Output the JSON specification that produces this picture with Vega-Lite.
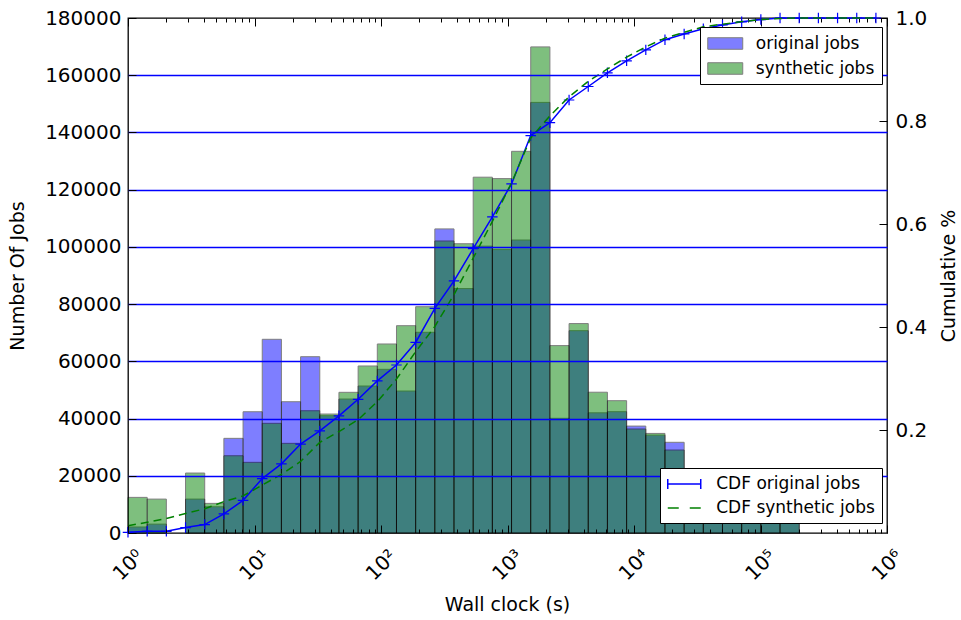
{
  "$schema": "https://vega.github.io/schema/vega-lite/v6.json",
  "autosize": "none",
  "width": 759,
  "height": 515,
  "padding": {"left": 128, "top": 18, "right": 74, "bottom": 87},
  "background": "white",
  "config": {
    "font": "DejaVu Sans",
    "view": {"stroke": "black", "strokeWidth": 1.3},
    "axis": {
      "labelFont": "DejaVu Sans",
      "titleFont": "DejaVu Sans",
      "labelColor": "black",
      "titleColor": "black",
      "titleFontWeight": "normal",
      "domain": false,
      "tickColor": "black",
      "tickWidth": 1,
      "labelFlush": false,
      "labelOverlap": false
    },
    "legend": {
      "labelFont": "DejaVu Sans",
      "labelFontSize": 17,
      "labelColor": "black",
      "fillColor": "white",
      "strokeColor": "black",
      "padding": 7,
      "rowPadding": 7,
      "cornerRadius": 0,
      "zindex": 2
    }
  },
  "datasets": {
    "hist": [
      {"lo": 1, "hi": 1.4178, "original": 2100, "synthetic": 12450},
      {"lo": 1.4178, "hi": 2.01, "original": 3100, "synthetic": 11850},
      {"lo": 2.8497, "hi": 4.0402, "original": 11850, "synthetic": 20950},
      {"lo": 4.0402, "hi": 5.728, "original": 9160, "synthetic": 10350},
      {"lo": 5.728, "hi": 8.1208, "original": 33080, "synthetic": 27000},
      {"lo": 8.1208, "hi": 11.513, "original": 42380, "synthetic": 24690},
      {"lo": 11.513, "hi": 16.323, "original": 67700, "synthetic": 38330},
      {"lo": 16.323, "hi": 23.142, "original": 45880, "synthetic": 31330},
      {"lo": 23.142, "hi": 32.81, "original": 61620, "synthetic": 42730},
      {"lo": 32.81, "hi": 46.517, "original": 40990, "synthetic": 41580},
      {"lo": 46.517, "hi": 65.949, "original": 46820, "synthetic": 49170},
      {"lo": 65.949, "hi": 93.5, "original": 51370, "synthetic": 58370},
      {"lo": 93.5, "hi": 132.56, "original": 57210, "synthetic": 66060},
      {"lo": 132.56, "hi": 187.93, "original": 49620, "synthetic": 72460},
      {"lo": 187.93, "hi": 266.44, "original": 70150, "synthetic": 79100},
      {"lo": 266.44, "hi": 377.74, "original": 106280, "synthetic": 102060},
      {"lo": 377.74, "hi": 535.5, "original": 85430, "synthetic": 101100},
      {"lo": 535.5, "hi": 759.3, "original": 100260, "synthetic": 124360},
      {"lo": 759.3, "hi": 1076.4, "original": 99050, "synthetic": 123870},
      {"lo": 1076.4, "hi": 1526.1, "original": 102400, "synthetic": 133400},
      {"lo": 1526.1, "hi": 2163.7, "original": 150500, "synthetic": 169900},
      {"lo": 2163.7, "hi": 3067.6, "original": 40080, "synthetic": 65500},
      {"lo": 3067.6, "hi": 4349, "original": 70710, "synthetic": 73200},
      {"lo": 4349, "hi": 6166, "original": 42000, "synthetic": 49200},
      {"lo": 6166, "hi": 8742, "original": 42400, "synthetic": 46250},
      {"lo": 8742, "hi": 12394, "original": 37370, "synthetic": 36350},
      {"lo": 12394, "hi": 17572, "original": 34200, "synthetic": 34800},
      {"lo": 17572, "hi": 24912, "original": 31700, "synthetic": 29000},
      {"lo": 24912, "hi": 35318, "original": 18000, "synthetic": 19000},
      {"lo": 35318, "hi": 50073, "original": 16000, "synthetic": 15000},
      {"lo": 50073, "hi": 70991, "original": 12000, "synthetic": 11000},
      {"lo": 70991, "hi": 100647, "original": 9500, "synthetic": 9000},
      {"lo": 100647, "hi": 142692, "original": 7000, "synthetic": 6000},
      {"lo": 142692, "hi": 202302, "original": 5000, "synthetic": 4500}
    ],
    "cdf": [
      {"edge": 1, "orig": 0.0013, "synth": 0.014},
      {"edge": 1.4178, "orig": 0.0032, "synth": 0.021},
      {"edge": 2.01, "orig": 0.0032, "synth": 0.028},
      {"edge": 2.8497, "orig": 0.0106, "synth": 0.038},
      {"edge": 4.0402, "orig": 0.0164, "synth": 0.047},
      {"edge": 5.728, "orig": 0.037, "synth": 0.061},
      {"edge": 8.1208, "orig": 0.0634, "synth": 0.072},
      {"edge": 11.513, "orig": 0.1057, "synth": 0.093},
      {"edge": 16.323, "orig": 0.1343, "synth": 0.114},
      {"edge": 23.142, "orig": 0.1727, "synth": 0.139},
      {"edge": 32.81, "orig": 0.1983, "synth": 0.176},
      {"edge": 46.517, "orig": 0.2275, "synth": 0.197},
      {"edge": 65.949, "orig": 0.2596, "synth": 0.22},
      {"edge": 93.5, "orig": 0.2953, "synth": 0.255},
      {"edge": 132.56, "orig": 0.3262, "synth": 0.299},
      {"edge": 187.93, "orig": 0.37, "synth": 0.352},
      {"edge": 266.44, "orig": 0.4363, "synth": 0.401},
      {"edge": 377.74, "orig": 0.4896, "synth": 0.463},
      {"edge": 535.5, "orig": 0.5521, "synth": 0.534},
      {"edge": 759.3, "orig": 0.6139, "synth": 0.605},
      {"edge": 1076.4, "orig": 0.6778, "synth": 0.68},
      {"edge": 1526.1, "orig": 0.7717, "synth": 0.767},
      {"edge": 2163.7, "orig": 0.7967, "synth": 0.81},
      {"edge": 3067.6, "orig": 0.8408, "synth": 0.847},
      {"edge": 4349, "orig": 0.867, "synth": 0.877},
      {"edge": 6166, "orig": 0.8935, "synth": 0.901},
      {"edge": 8742, "orig": 0.9168, "synth": 0.924},
      {"edge": 12394, "orig": 0.9381, "synth": 0.944},
      {"edge": 17572, "orig": 0.9579, "synth": 0.961},
      {"edge": 24912, "orig": 0.9691, "synth": 0.972},
      {"edge": 35318, "orig": 0.9791, "synth": 0.983},
      {"edge": 50073, "orig": 0.9866, "synth": 0.988},
      {"edge": 70991, "orig": 0.9925, "synth": 0.993},
      {"edge": 100647, "orig": 0.9969, "synth": 0.997},
      {"edge": 142692, "orig": 1.0, "synth": 0.999},
      {"edge": 202302, "orig": 1.0, "synth": 1.0},
      {"edge": 286810, "orig": 1.0, "synth": 1.0},
      {"edge": 406630, "orig": 1.0, "synth": 1.0},
      {"edge": 576490, "orig": 1.0, "synth": 1.0},
      {"edge": 817310, "orig": 1.0, "synth": 1.0}
    ]
  },
  "layer": [
    {
      "data": {"name": "hist"},
      "layer": [
        {
          "mark": {"type": "bar", "opacity": 0.5, "stroke": "black", "strokeWidth": 1},
          "encoding": {
            "x": {
              "field": "lo",
              "type": "quantitative",
              "scale": {"type": "log", "domain": [1, 1000000]},
              "axis": {
                "orient": "bottom",
                "values": [1,2,3,4,5,6,7,8,9,10,20,30,40,50,60,70,80,90,100,200,300,400,500,600,700,800,900,1000,2000,3000,4000,5000,6000,7000,8000,9000,10000,20000,30000,40000,50000,60000,70000,80000,90000,100000,200000,300000,400000,500000,600000,700000,800000,900000,1000000],
                "labelExpr": "abs(log(datum.value)/LN10 - round(log(datum.value)/LN10)) < 0.001 ? '10' + ['⁰','¹','²','³','⁴','⁵','⁶'][round(log(datum.value)/LN10)] : ''",
                "labelAngle": -45,
                "labelAlign": "center",
                "labelBaseline": "middle",
                "labelFontSize": 20,
                "labelPadding": 40,
                "tickSize": {"condition": {"test": "abs(log(datum.value)/LN10 - round(log(datum.value)/LN10)) < 0.001", "value": -8}, "value": -4},
                "grid": false,
                "title": "Wall clock (s)",
                "titleFontSize": 19,
                "titleX": 379,
                "titleY": 71,
                "titleAlign": "center",
                "titleBaseline": "middle",
                "zindex": 1
              }
            },
            "x2": {"field": "hi"},
            "y": {
              "field": "original",
              "type": "quantitative",
              "scale": {"domain": [0, 180000]},
              "axis": {
                "orient": "left",
                "values": [0,20000,40000,60000,80000,100000,120000,140000,160000,180000],
                "format": "d",
                "labelFontSize": 20,
                "labelPadding": 15,
                "tickSize": -8,
                "grid": true,
                "gridColor": "#0000ff",
                "gridWidth": 1.5,
                "gridOpacity": {"condition": {"test": "datum.value == 0 || datum.value == 180000", "value": 0}, "value": 1},
                "title": "Number Of Jobs",
                "titleFontSize": 19,
                "titleAngle": 270,
                "titleX": -111,
                "titleY": 257.5,
                "titleAlign": "center",
                "titleBaseline": "middle",
                "zindex": 1
              }
            },
            "y2": {"datum": 0},
            "fill": {
              "datum": "original jobs",
              "type": "nominal",
              "scale": {"domain": ["original jobs", "synthetic jobs"], "range": ["#0000ff", "#008000"]},
              "legend": {
                "orient": "none",
                "legendX": 572,
                "legendY": 9,
                "title": null,
                "symbolType": "M-2,-0.66H2V0.66H-2Z",
                "symbolSize": 306,
                "symbolOpacity": 0.5,
                "symbolStrokeColor": "black",
                "symbolStrokeWidth": 1,
                "symbolOffset": 8.75,
                "labelOffset": 21
              }
            }
          }
        },
        {
          "mark": {"type": "bar", "opacity": 0.5, "stroke": "black", "strokeWidth": 1},
          "encoding": {
            "x": {"field": "lo", "type": "quantitative"},
            "x2": {"field": "hi"},
            "y": {"field": "synthetic", "type": "quantitative"},
            "y2": {"datum": 0},
            "fill": {"datum": "synthetic jobs", "type": "nominal"}
          }
        }
      ]
    },
    {
      "data": {"name": "cdf"},
      "layer": [
        {
          "mark": {"type": "line", "strokeWidth": 1.5},
          "encoding": {
            "x": {
              "field": "edge",
              "type": "quantitative",
              "axis": {
                "orient": "top",
                "values": [1,2,3,4,5,6,7,8,9,10,20,30,40,50,60,70,80,90,100,200,300,400,500,600,700,800,900,1000,2000,3000,4000,5000,6000,7000,8000,9000,10000,20000,30000,40000,50000,60000,70000,80000,90000,100000,200000,300000,400000,500000,600000,700000,800000,900000,1000000],
                "labels": false,
                "title": null,
                "grid": false,
                "tickSize": {"condition": {"test": "abs(log(datum.value)/LN10 - round(log(datum.value)/LN10)) < 0.001", "value": -8}, "value": -4}
              }
            },
            "y": {
              "field": "orig",
              "type": "quantitative",
              "scale": {"domain": [0, 1]},
              "axis": {
                "orient": "right",
                "values": [0.2, 0.4, 0.6, 0.8, 1.0],
                "format": ".1f",
                "labelFontSize": 20,
                "labelPadding": 16,
                "tickSize": -8,
                "grid": false,
                "title": "Cumulative %",
                "titleFontSize": 19,
                "titleAngle": 270,
                "titleX": 61,
                "titleY": 257.5,
                "titleAlign": "center",
                "titleBaseline": "middle"
              }
            },
            "stroke": {
              "datum": "CDF original jobs",
              "type": "nominal",
              "scale": {"domain": ["CDF original jobs", "CDF synthetic jobs"], "range": ["#0000ff", "#008000"]},
              "legend": {
                "orient": "none",
                "legendX": 532,
                "legendY": 450,
                "title": null,
                "symbolType": "M-2,0H2M-2,-0.6V0.6M2,-0.6V0.6",
                "symbolSize": 272,
                "symbolStrokeWidth": 1.5,
                "symbolOffset": 8.25,
                "labelOffset": 23,
                "encode": {
                  "symbols": {
                    "update": {
                      "shape": {"signal": "datum.value === 'CDF original jobs' ? 'M-2,0H2M-2,-0.6V0.6M2,-0.6V0.6' : 'M-2,0H2'"},
                      "strokeDash": {"signal": "datum.value === 'CDF original jobs' ? [] : [11, 11]"}
                    }
                  }
                }
              }
            }
          }
        },
        {
          "mark": {"type": "point", "shape": "M-1,0H1M0,-1V1", "size": 110, "filled": false, "stroke": "#0000ff", "strokeWidth": 1.2, "opacity": 1},
          "encoding": {
            "x": {"field": "edge", "type": "quantitative"},
            "y": {"field": "orig", "type": "quantitative"}
          }
        },
        {
          "mark": {"type": "line", "strokeWidth": 1.5, "strokeDash": [8, 5]},
          "encoding": {
            "x": {"field": "edge", "type": "quantitative"},
            "y": {"field": "synth", "type": "quantitative"},
            "stroke": {"datum": "CDF synthetic jobs", "type": "nominal"}
          }
        }
      ]
    }
  ],
  "resolve": {"scale": {"y": "independent"}, "axis": {"x": "independent"}}
}
